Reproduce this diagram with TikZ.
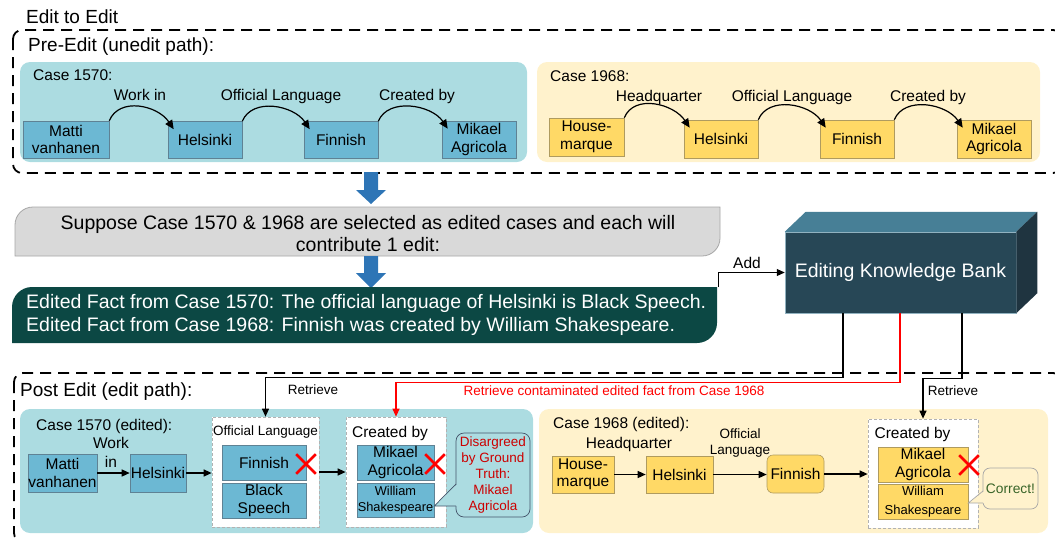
\documentclass[tikz,border=0pt]{standalone}
\usepackage{fontspec}
\setmainfont{Liberation Sans}
\usetikzlibrary{arrows.meta,shapes.misc,calc}
\definecolor{tealbg}{RGB}{172,220,225}
\definecolor{nblue}{RGB}{108,184,211}
\definecolor{nblueb}{RGB}{95,130,148}
\definecolor{ybg}{RGB}{255,242,204}
\definecolor{nyel}{RGB}{255,217,102}
\definecolor{nyelb}{RGB}{175,155,95}
\definecolor{barrow}{RGB}{46,117,182}
\definecolor{grayf}{RGB}{217,217,217}
\definecolor{grayb}{RGB}{166,166,166}
\definecolor{darkg}{RGB}{12,72,68}
\definecolor{kbfront}{RGB}{39,71,86}
\definecolor{kbtop}{RGB}{71,127,150}
\definecolor{kbside}{RGB}{31,52,64}
\definecolor{dred}{RGB}{204,0,0}
\definecolor{cgreen}{RGB}{56,100,40}
\definecolor{callb}{RGB}{68,84,106}
\newcommand\fsz[2]{\fontsize{#1}{#2}\selectfont}
\begin{document}
\begin{tikzpicture}[x=1pt,y=-1pt,
  frame/.style={draw=black, line width=1.8pt, dash pattern=on 11pt off 7pt, rounded corners=9pt},
  bgbox/.style={rounded corners=10pt, draw=none},
  bn/.style={draw=nblueb, fill=nblue, line width=0.6pt, inner sep=0pt, align=center, font=\fsz{15.5}{17.5}},
  yn/.style={bn, draw=nyelb, fill=nyel},
  lbl/.style={inner sep=0pt, font=\fsz{15.5}{18}},
  slbl/.style={inner sep=0pt, font=\fsz{13.5}{16}},
  big/.style={inner sep=0pt, font=\fsz{19}{22}},
  arcarrow/.style={line width=1.2pt, -{Triangle[length=9pt,width=8pt]}},
  conn/.style={line width=1.3pt, -{Triangle[length=8pt,width=7pt]}},
  dbox/.style={draw=gray!60, fill=white, densely dashed, line width=0.7pt, inner sep=0pt},
  xmark/.style={draw=red, cross out, line width=2.6pt, minimum size=17pt, inner sep=0pt}
]
\useasboundingbox (0,0) rectangle (1055,539);
\begin{scope}
\clip (0,0) rectangle (1055,539);
\draw[frame] (13,30) rectangle (1062,173);
\draw[frame] (14,373) rectangle (1062,542);
\end{scope}

% ---------- top ----------
\node[big, anchor=base west] (t0) at (26,23) {Edit to Edit};
\node[big, anchor=base west] (t1) at (28,51.5) {Pre-Edit (unedit path):};

\fill[bgbox, fill=tealbg] (20,62) rectangle (527,162);
\fill[bgbox, fill=ybg] (537,62) rectangle (1040,162);

\node[lbl, anchor=base west] (c1) at (33,80) {Case 1570:};
\node[lbl, anchor=base west] (c2) at (550,81) {Case 1968:};

\node[bn, minimum width=86pt, minimum height=37pt] (u1m) at (66,139.5) {Matti\\vanhanen};
\node[bn, minimum width=74pt, minimum height=37pt] (u1h) at (205,140) {Helsinki};
\node[bn, minimum width=74pt, minimum height=37pt] (u1f) at (341,140) {Finnish};
\node[bn, minimum width=74pt, minimum height=37pt] (u1a) at (479,139.5) {Mikael\\Agricola};

\node[yn, minimum width=75pt, minimum height=38pt] (u2h0) at (586.5,137) {House-\\marque};
\node[yn, minimum width=74pt, minimum height=38pt] (u2h) at (721,139) {Helsinki};
\node[yn, minimum width=74pt, minimum height=38pt] (u2f) at (857,139) {Finnish};
\node[yn, minimum width=74pt, minimum height=38pt] (u2a) at (994,139) {Mikael\\Agricola};

\draw[arcarrow] (u1m.north east) .. controls +(10,-24) and +(-16,-24) .. ([shift={(6,8)}]u1h.north west);
\draw[arcarrow] (u1h.north east) .. controls +(10,-24) and +(-16,-24) .. ([shift={(6,8)}]u1f.north west);
\draw[arcarrow] (u1f.north east) .. controls +(10,-24) and +(-16,-24) .. ([shift={(6,8)}]u1a.north west);
\draw[arcarrow] (u2h0.north east) .. controls +(10,-24) and +(-16,-24) .. ([shift={(6,8)}]u2h.north west);
\draw[arcarrow] (u2h.north east) .. controls +(10,-24) and +(-16,-24) .. ([shift={(6,8)}]u2f.north west);
\draw[arcarrow] (u2f.north east) .. controls +(10,-24) and +(-16,-24) .. ([shift={(6,8)}]u2a.north west);

\node[lbl, anchor=base] (la1) at (140,100) {Work in};
\node[lbl, anchor=base] (la2) at (281,100) {Official Language};
\node[lbl, anchor=base] (la3) at (417,100) {Created by};
\node[lbl, anchor=base] (lb1) at (659,101) {Headquarter};
\node[lbl, anchor=base] (lb2) at (792,101) {Official Language};
\node[lbl, anchor=base] (lb3) at (928,101) {Created by};

% ---------- middle ----------
\fill[barrow] (364,172) -- (378,172) -- (378,190) -- (386,190) -- (371,204) -- (356,190) -- (364,190) -- cycle;
\draw[fill=grayf, draw=grayb, line width=0.8pt] (15,256) -- (15,225) .. controls (15,215) and (23,207) .. (33,207) -- (720,207) -- (720,238) .. controls (720,248) and (712,256) .. (702,256) -- cycle;
\node[font=\fsz{19.5}{22}, align=center, inner sep=0pt] (sup) at (368,234) {Suppose Case 1570 \& 1968 are selected as edited cases and each will\\contribute 1 edit:};
\fill[barrow] (364,256) -- (378,256) -- (378,273) -- (386,273) -- (371,288) -- (356,273) -- (364,273) -- cycle;
\fill[darkg] (12,343) -- (12,307) .. controls (12,296) and (21,287) .. (32,287) -- (717,287) -- (717,323) .. controls (717,334) and (708,343) .. (697,343) -- cycle;
\node[font=\fsz{19.5}{23}, align=left, text=white, anchor=west, inner sep=0pt] (fact) at (26,315) {Edited Fact from Case 1570: The official language of Helsinki is Black Speech.\\Edited Fact from Case 1968: Finnish was created by William Shakespeare.};

\node[fill=kbfront, draw=kbtop!60, line width=0.5pt, minimum width=231pt, minimum height=81pt, inner sep=0pt, text=white, font=\fsz{19.5}{22}] (ekb) at (900.5,272.5) {Editing Knowledge Bank};
\fill[kbtop] (ekb.north west) -- ++(21,-20) -- ([shift={(21,-20)}]ekb.north east) -- (ekb.north east) -- cycle;
\fill[kbside] (ekb.north east) -- ++(21,-20) -- ([shift={(21,-20)}]ekb.south east) -- (ekb.south east) -- cycle;

\coordinate (addst) at (718,287);
\draw[conn, line width=1pt] (addst) |- (ekb.west);
\node[lbl, anchor=base] (addl) at (747,268) {Add};

% ---------- bottom ----------
\node[big, anchor=base west] (t2) at (20,396) {Post Edit (edit path):};
\fill[bgbox, fill=tealbg] (20,409) rectangle (533,533);
\fill[bgbox, fill=ybg] (539,409) rectangle (1048,533);

\node[lbl, anchor=base west] (c3) at (36,430) {Case 1570 (edited):};
\node[lbl, anchor=base west] (c4) at (553,428) {Case 1968 (edited):};

% case 1570 edited
\node[bn, minimum width=69pt, minimum height=38pt] (l1m) at (62.5,473) {Matti\\vanhanen};
\node[bn, minimum width=56pt, minimum height=38pt] (l1h) at (158,473) {Helsinki};
\node[lbl, align=center, font=\fsz{15.5}{19}] (lwi) at (111,452) {Work\\in};
\node[dbox, minimum width=107pt, minimum height=110pt] (olbox) at (265.5,472) {};
\node[slbl, anchor=base] (oll) at (265.5,435) {Official Language};
\node[bn, minimum width=84pt, minimum height=35pt] (l1f) at (264,462.5) {Finnish};
\node[bn, minimum width=84pt, minimum height=35pt] (l1b) at (264,500.5) {Black\\Speech};
\node[dbox, minimum width=100pt, minimum height=110pt] (cbbox) at (396,472) {};
\node[lbl, anchor=base] (cbl) at (390,437) {Created by};
\node[bn, minimum width=77pt, minimum height=35pt] (l1a) at (395.5,462.5) {Mikael\\Agricola};
\node[bn, minimum width=77pt, minimum height=34pt, font=\fsz{12.8}{15.5}] (l1s) at (395.5,500) {William\\Shakespeare};
\node[xmark] (x1) at (306,464) {};
\node[xmark] (x2) at (435,464) {};
\draw[conn] (l1m) -- (l1h);
\draw[conn] (l1h.east) -- (l1h.east -| olbox.west);
\draw[conn] (olbox.east) -- (cbbox.west);

\node[draw=callb, fill=tealbg, rounded corners=8pt, minimum width=74pt, minimum height=84pt, inner sep=0pt, align=center, text=dred, font=\fsz{13.5}{15.8}, line width=0.7pt] (dis) at (493,475) {Disargreed\\by Ground\\Truth:\\Mikael\\Agricola};
\coordinate (tip1) at ([shift={(0,6)}]l1s.east);
\fill[tealbg] (457.5,484) -- (tip1) -- (457.5,506) -- cycle;
\draw[draw=callb, line width=0.7pt] (456,484) -- (tip1) -- (456,506);

% case 1968 edited
\node[yn, minimum width=62pt, minimum height=37pt] (l2h0) at (583,474.5) {House-\\marque};
\node[lbl, anchor=base] (hql) at (629,448) {Headquarter};
\node[yn, minimum width=67pt, minimum height=37pt] (l2h) at (679.5,474.5) {Helsinki};
\node[slbl, align=center, font=\fsz{13.5}{16}] (oll2) at (740,443) {Official\\Language};
\node[yn, rounded corners=6pt, minimum width=57pt, minimum height=38pt] (l2f) at (795.5,474) {Finnish};
\node[dbox, minimum width=110pt, minimum height=109pt] (cb2box) at (923,473.5) {};
\node[lbl, anchor=base] (cbl2) at (912.5,438) {Created by};
\node[yn, minimum width=90pt, minimum height=35pt] (l2a) at (923,464.5) {Mikael\\Agricola};
\node[yn, minimum width=90pt, minimum height=35pt, font=\fsz{13}{19}] (l2s) at (923,501.5) {William\\Shakespeare};
\node[xmark] (x3) at (969,465) {};
\draw[conn] (l2h0) -- (l2h);
\draw[conn] (l2h.east) -- (l2h.east -| l2f.west);
\draw[conn] (l2f.east) -- (l2f.east -| cb2box.west);

\node[draw=gray!70, fill=ybg, rounded corners=7pt, minimum width=55pt, minimum height=41pt, inner sep=0pt, text=cgreen, font=\fsz{13.8}{16}, line width=0.7pt] (cor) at (1010.5,488.5) {Correct!};
\coordinate (tip2) at ([shift={(0,1.5)}]l2s.east);
\fill[ybg] (984.5,491) -- (tip2) -- (984.5,503) -- cycle;
\draw[draw=gray!70, line width=0.7pt] (983,491) -- (tip2) -- (983,503);

% retrieve connectors
\draw[conn, line width=1.1pt] ([shift={(-57.5,0)}]ekb.south) -- ++(0,64) -| (olbox.north);
\draw[conn, line width=1.1pt, red] ([shift={(-0.5,0)}]ekb.south) -- ++(0,69) -| (cbbox.north);
\draw[conn, line width=1.1pt] ([shift={(61.5,0)}]ekb.south) -- ++(0,65) -| (cb2box.north);
\node[slbl, anchor=base] (r1) at (313,394.5) {Retrieve};
\node[slbl, anchor=base, text=red] (r2) at (614,395) {Retrieve contaminated edited fact from Case 1968};
\node[slbl, anchor=base] (r3) at (953,395) {Retrieve};
\end{tikzpicture}
\end{document}
